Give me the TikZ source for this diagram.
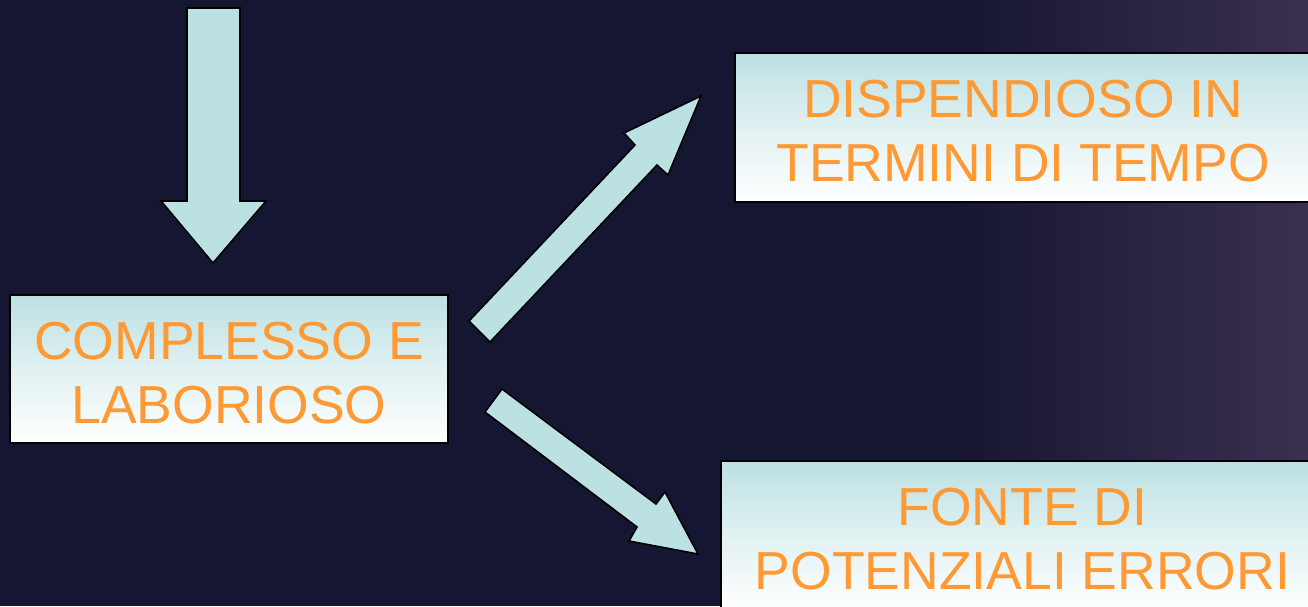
\documentclass[tikz,border=0pt]{standalone}
\usepackage{fontspec}
\setmainfont{Liberation Sans}
\definecolor{bgnavy}{HTML}{151632}
\definecolor{bgpurple}{HTML}{3B2F50}
\definecolor{boxcyan}{HTML}{BCE0E2}
\definecolor{arrowcyan}{HTML}{BCE1E3}
\definecolor{txtorange}{HTML}{FF9933}
\newcommand{\lowline}[1]{\raisebox{-4pt}[\height][\depth]{#1}}
\begin{document}
\begin{tikzpicture}[x=1pt,y=-1pt,
  infobox/.style={rectangle, draw=black, line width=1.6pt, top color=boxcyan, bottom color=white, middle color=boxcyan!45!white,
    text=txtorange, align=center, inner sep=0pt, font=\fontsize{53.5}{64}\selectfont},
  blockarrow/.style={fill=arrowcyan, draw=black, line width=1.6pt, line join=miter}]
\useasboundingbox (0,0) rectangle (1308,606);
\fill[bgnavy] (0,0) rectangle (1308,606);
\shade[left color=bgnavy, right color=bgpurple] (950,0) rectangle (1308,606);

\node[infobox, minimum width=438pt, minimum height=148pt] (cl) at (229,369) {\lowline{COMPLESSO E}\\\lowline{LABORIOSO}};
\node[infobox, minimum width=576pt, minimum height=149pt] (dt) at (1023,127.5) {\lowline{DISPENDIOSO IN}\\\lowline{TERMINI DI TEMPO}};
\node[infobox, minimum width=603pt, minimum height=148pt] (fe) at (1022.5,535) {\lowline{FONTE DI}\\\lowline{POTENZIALI ERRORI}};

% down arrow into COMPLESSO E LABORIOSO
\draw[blockarrow] (187,8) -- (240,8) -- (240,201) -- (266,201) -- (213,263) -- (161,201) -- (187,201) -- cycle;
% arrow to DISPENDIOSO
\draw[blockarrow] (469,321) -- (635,145) -- (624,133) -- (701,96) -- (668,175) -- (657,165) -- (490,342) -- cycle;
% arrow to FONTE DI POTENZIALI ERRORI
\draw[blockarrow] (502,389) -- (656,504) -- (665,492) -- (698,554) -- (629,541) -- (637,527) -- (485,412) -- cycle;
\end{tikzpicture}
\end{document}
